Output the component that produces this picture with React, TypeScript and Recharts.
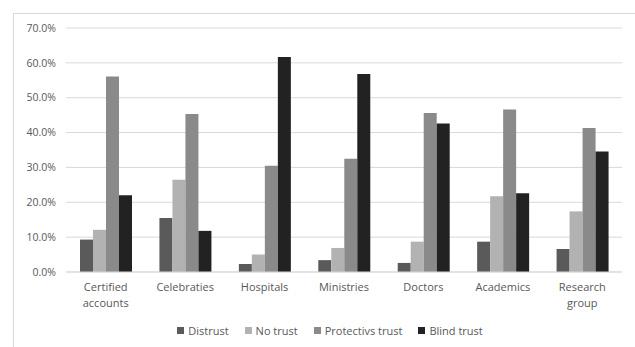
import { BarChart, Bar, XAxis, YAxis, CartesianGrid, Legend } from "recharts";

const categories = ["Certified accounts", "Celebraties", "Hospitals", "Ministries", "Doctors", "Academics", "Research group"];
const distrust = [9.3, 15.5, 2.3, 3.4, 2.6, 8.7, 6.6];
const noTrust = [12.1, 26.5, 5.0, 6.9, 8.7, 21.7, 17.4];
const protectiveTrust = [56.1, 45.3, 30.5, 32.5, 45.6, 46.6, 41.3];
const blindTrust = [22.0, 11.8, 61.7, 56.8, 42.6, 22.6, 34.6];
const yTicks = [0, 10, 20, 30, 40, 50, 60, 70];

const series = [
  { key: "distrust", name: "Distrust", color: "#5a5a5a" },
  { key: "noTrust", name: "No trust", color: "#b2b2b2" },
  { key: "protectiveTrust", name: "Protectivs trust", color: "#8a8a8a" },
  { key: "blindTrust", name: "Blind trust", color: "#222222" },
];

const data = categories.map((name, i) => ({
  name,
  distrust: distrust[i],
  noTrust: noTrust[i],
  protectiveTrust: protectiveTrust[i],
  blindTrust: blindTrust[i],
}));

const FONT = "'Open Sans', sans-serif";
const TEXT = "#595959";

function CategoryTick(props: any) {
  const { x, y, payload } = props;
  const words = String(payload.value).split(" ");
  return (
    <text x={x} y={y} textAnchor="middle" fill={TEXT} fontSize={11} fontFamily={FONT}>
      {words.map((w, i) => (
        <tspan key={i} x={x} dy={i === 0 ? 11 : 16}>
          {w}
        </tspan>
      ))}
    </text>
  );
}

function LegendBox() {
  return (
    <div style={{ display: "flex", justifyContent: "center", gap: 16, fontFamily: FONT, fontSize: 11, color: TEXT, marginLeft: 38 }}>
      {series.map((s) => (
        <span key={s.key} style={{ display: "flex", alignItems: "center" }}>
          <span style={{ width: 7, height: 7, background: s.color, marginRight: 4, display: "inline-block" }} />
          {s.name}
        </span>
      ))}
    </div>
  );
}

export default function App() {
  return (
    <div style={{ position: "absolute", left: 0, top: 0, width: 635, height: 347, background: "#fff", overflow: "hidden" }}>
      <div style={{ position: "absolute", left: 13, top: 13, width: 640, height: 360, border: "1px solid #d9d9d9" }} />
      <div style={{ position: "absolute", left: 0, top: 0 }}>
        <BarChart
          width={635}
          height={347}
          data={data}
          margin={{ top: 28, right: 13, left: 0, bottom: 9 }}
          barCategoryGap={14}
          barGap={0}
        >
          <CartesianGrid vertical={false} stroke="#d9d9d9" />
          <XAxis
            dataKey="name"
            tick={<CategoryTick />}
            tickLine={false}
            axisLine={{ stroke: "#d9d9d9" }}
            height={51}
            interval={0}
          />
          <YAxis
            width={66}
            domain={[0, 70]}
            ticks={yTicks}
            tickFormatter={(v: number) => v.toFixed(1) + "%"}
            tick={{ fill: TEXT, fontSize: 10.5, fontFamily: FONT }}
            tickLine={false}
            axisLine={false}
            tickMargin={4}
          />
          <Legend verticalAlign="bottom" content={<LegendBox />} />
          {series.map((s) => (
            <Bar key={s.key} dataKey={s.key} name={s.name} fill={s.color} isAnimationActive={false} />
          ))}
        </BarChart>
      </div>
    </div>
  );
}
